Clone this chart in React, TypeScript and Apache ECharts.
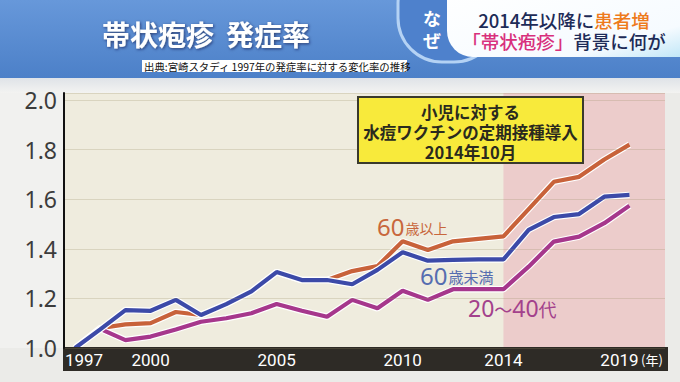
import React, { useEffect, useRef } from 'react';
import * as echarts from 'echarts';

// ---- data ----
const years = [1997, 1998, 1999, 2000, 2001, 2002, 2003, 2004, 2005, 2006, 2007, 2008, 2009, 2010, 2011, 2012, 2013, 2014, 2015, 2016, 2017, 2018, 2019];
const over60 = [1.0, 1.08, 1.095, 1.1, 1.145, 1.133, 1.177, 1.228, 1.306, 1.274, 1.274, 1.31, 1.33, 1.43, 1.395, 1.43, 1.44, 1.45, 1.56, 1.67, 1.69, 1.76, 1.82];
const under60 = [1.0, 1.075, 1.153, 1.15, 1.194, 1.133, 1.177, 1.228, 1.306, 1.274, 1.274, 1.257, 1.315, 1.386, 1.352, 1.355, 1.357, 1.357, 1.476, 1.528, 1.54, 1.61, 1.617];
const age20to40 = [1.0, 1.077, 1.032, 1.046, 1.075, 1.106, 1.12, 1.14, 1.177, 1.15, 1.126, 1.194, 1.16, 1.231, 1.194, 1.237, 1.237, 1.237, 1.328, 1.429, 1.449, 1.503, 1.574];
const xTickLabels = [1997, 2000, 2005, 2010, 2014, 2019];
const yTicks = [1.0, 1.2, 1.4, 1.6, 1.8, 2.0];
const vaccineYear = 2014;

const X_MIN = 1996.563;
const X_MAX = 2020.41;

const JP = '"Noto Sans CJK JP", "Noto Sans", sans-serif';

export default function App() {
  const ref = useRef<HTMLDivElement>(null);
  useEffect(() => {
    const chart = echarts.init(ref.current!, null, { renderer: 'svg' });
    const toPairs = (vals: number[]) => years.map((y, i) => [y, vals[i]]);
    const mkLine = (name: string, vals: number[], color: string) => [
      {
        type: 'line', name: name + ' halo', data: toPairs(vals), symbol: 'none', silent: true,
        lineStyle: { color: '#ffffff', width: 6.5 }, emphasis: { disabled: true },
      },
      {
        type: 'line', name, data: toPairs(vals), symbol: 'none',
        lineStyle: { color, width: 4.2 }, emphasis: { disabled: true },
      },
    ];

    const option: any = {
      animation: false,
      backgroundColor: '#ebebe8',
      grid: {
        left: 64, right: 15, top: 93, bottom: 34,
        show: true, backgroundColor: '#efecde', borderWidth: 0,
      },
      xAxis: {
        type: 'value', min: X_MIN, max: X_MAX, z: 10,
        axisLine: { show: false }, axisTick: { show: false }, splitLine: { show: false },
        axisLabel: {
          customValues: xTickLabels,
          margin: 3,
          color: '#ffffff',
          fontSize: 17,
          fontFamily: 'Roboto, sans-serif',
          formatter: (v: number) => (v === xTickLabels[0] ? `{f|${v}}` : v === xTickLabels[xTickLabels.length - 1] ? `{l|${v}}` : `{n|${v}}`),
          rich: {
            f: { color: '#ffffff', fontSize: 17, fontFamily: 'Roboto, sans-serif', padding: [0, 0, 0, 18] },
            l: { color: '#ffffff', fontSize: 17, fontFamily: 'Roboto, sans-serif', padding: [0, 20, 0, 0] },
            n: { color: '#ffffff', fontSize: 17, fontFamily: 'Roboto, sans-serif' },
          },
        },
      },
      yAxis: {
        type: 'value', min: yTicks[0], max: 2.028, interval: 0.2, z: 10,
        axisLine: { show: true, lineStyle: { color: '#111111', width: 2 } },
        axisTick: { show: false },
        splitLine: { show: true, lineStyle: { color: 'rgba(150,140,100,0.25)', width: 1 } },
        axisLabel: {
          showMaxLabel: false,
          margin: 7,
          fontSize: 23,
          color: '#3c3c3c',
          fontFamily: '"Noto Sans", sans-serif',
          formatter: (v: number) => v.toFixed(1),
        },
      },
      series: [
        {
          type: 'line', name: 'bg', data: [], silent: true,
          markArea: {
            silent: true,
            itemStyle: { color: 'rgba(232,160,176,0.42)' },
            data: [[{ xAxis: vaccineYear }, { xAxis: X_MAX }]],
          },
        },
        ...mkLine('60歳以上', over60, '#c8623a'),
        ...mkLine('20〜40代', age20to40, '#a6378c'),
        ...mkLine('60歳未満', under60, '#3c4aa8'),
      ],
      graphic: [
        // header
        {
          type: 'rect', z: 1, shape: { x: 0, y: 0, width: 680, height: 78 },
          style: { fill: new echarts.graphic.LinearGradient(0, 0, 0, 1, [{ offset: 0, color: '#6798da' }, { offset: 1, color: '#4c80c8' }]) },
        },
        {
          type: 'rect', z: 1, shape: { x: 0, y: 78, width: 680, height: 15 },
          style: { fill: new echarts.graphic.LinearGradient(0, 0, 0, 1, [{ offset: 0, color: '#dfe3e8' }, { offset: 1, color: '#f3f3f1' }]) },
        },
        {
          type: 'rect', z: 0, shape: { x: 0, y: 93, width: 63, height: 255 },
          style: { fill: '#f1f1ef' },
        },
        {
          type: 'rect', z: 2, shape: { x: 398, y: -40, width: 100, height: 102, r: 44 },
          style: { fill: '#4e81cc', stroke: '#b4d2f4', lineWidth: 3 },
        },
        {
          type: 'rect', z: 3, shape: { x: 447, y: -10, width: 240, height: 67, r: [0, 0, 0, 26] },
          style: { fill: new echarts.graphic.LinearGradient(0, 0, 1, 1, [{ offset: 0, color: '#ffffff' }, { offset: 0.75, color: '#f6fbff' }, { offset: 1, color: '#bfe6f7' }]) },
        },
        {
          type: 'text', z: 4, x: 158, y: 34,
          style: {
            text: '帯状疱疹', fill: '#ffffff', fontSize: 28, fontWeight: 'bold', fontFamily: JP,
            align: 'center', verticalAlign: 'middle',
            textShadowColor: 'rgba(10,20,60,0.65)', textShadowBlur: 3, textShadowOffsetX: 1, textShadowOffsetY: 1,
          },
        },
        {
          type: 'text', z: 4, x: 268, y: 34,
          style: {
            text: '発症率', fill: '#ffffff', fontSize: 28, fontWeight: 'bold', fontFamily: JP,
            align: 'center', verticalAlign: 'middle',
            textShadowColor: 'rgba(10,20,60,0.65)', textShadowBlur: 3, textShadowOffsetX: 1, textShadowOffsetY: 1,
          },
        },
        {
          type: 'text', z: 4, x: 432, y: 29,
          style: { text: 'な\nぜ', fill: '#ffffff', fontSize: 18, lineHeight: 22, fontWeight: 'bold', fontFamily: JP, align: 'center', verticalAlign: 'middle' },
        },
        {
          type: 'text', z: 4, x: 564, y: 30.5,
          style: {
            text: '{d|2014年以降に}{o|患者増}\n{m|「帯状疱疹」}{d|背景に何が}', align: 'center', verticalAlign: 'middle',
            rich: {
              d: { fill: '#1d2b57', fontSize: 18.5, lineHeight: 21, fontFamily: JP, fontWeight: 500 },
              o: { fill: '#ee7a1c', fontSize: 18.5, lineHeight: 21, fontFamily: JP, fontWeight: 500 },
              m: { fill: '#d8307c', fontSize: 18.5, lineHeight: 21, fontFamily: JP, fontWeight: 500 },
            },
          },
        },
        {
          type: 'rect', z: 4, shape: { x: 142, y: 60, width: 265, height: 12 },
          style: { fill: '#ffffff' },
        },
        {
          type: 'text', z: 5, x: 144, y: 66,
          style: { text: '出典:宮崎スタディ 1997年の発症率に対する変化率の推移', fill: '#111111', fontSize: 10.4, fontFamily: JP, align: 'left', verticalAlign: 'middle' },
        },
        // x axis band
        {
          type: 'rect', z: 5, shape: { x: 63, y: 347, width: 605, height: 24 },
          style: { fill: '#2e2b26' },
        },
        {
          type: 'text', z: 12, x: 652, y: 359,
          style: { text: '(年)', fill: '#ffffff', fontSize: 13, fontFamily: JP, align: 'center', verticalAlign: 'middle' },
        },
        // annotation box
        {
          type: 'rect', z: 20, shape: { x: 358, y: 97, width: 225, height: 66 },
          style: { fill: '#f8ea3b', stroke: '#3a3a2c', lineWidth: 2 },
        },
        {
          type: 'text', z: 21, x: 470.5, y: 132,
          style: {
            text: '小児に対する\n水痘ワクチンの定期接種導入\n2014年10月', fill: '#2a2a1e', fontSize: 16.5, lineHeight: 20,
            fontWeight: 'bold', fontFamily: JP, align: 'center', verticalAlign: 'middle',
          },
        },
        // series labels
        {
          type: 'text', z: 21, x: 377, y: 226,
          style: {
            text: '{a|60}{b|歳以上}', align: 'left', verticalAlign: 'middle',
            rich: {
              a: { fill: '#c8673c', fontSize: 24, fontFamily: '"Noto Sans", sans-serif', verticalAlign: 'bottom' },
              b: { fill: '#c8673c', fontSize: 14, fontFamily: JP, verticalAlign: 'bottom', padding: [0, 0, 3, 1] },
            },
          },
        },
        {
          type: 'text', z: 21, x: 420, y: 275,
          style: {
            text: '{a|60}{b|歳未満}', align: 'left', verticalAlign: 'middle',
            rich: {
              a: { fill: '#566db0', fontSize: 24, fontFamily: '"Noto Sans", sans-serif', verticalAlign: 'bottom' },
              b: { fill: '#566db0', fontSize: 15, fontFamily: JP, verticalAlign: 'bottom', padding: [0, 0, 3, 1] },
            },
          },
        },
        {
          type: 'text', z: 21, x: 468, y: 308,
          style: {
            text: '{a|20}{b|～}{a|40}{b|代}', align: 'left', verticalAlign: 'middle',
            rich: {
              a: { fill: '#a3418c', fontSize: 23, fontFamily: '"Noto Sans", sans-serif', verticalAlign: 'bottom' },
              b: { fill: '#a3418c', fontSize: 18, fontFamily: JP, verticalAlign: 'bottom', padding: [0, 0, 2, 0] },
            },
          },
        },
      ],
    };
    chart.setOption(option);
    return () => chart.dispose();
  }, []);
  return <div ref={ref} style={{ position: 'fixed', left: 0, top: 0, width: 680, height: 382 }} />;
}
